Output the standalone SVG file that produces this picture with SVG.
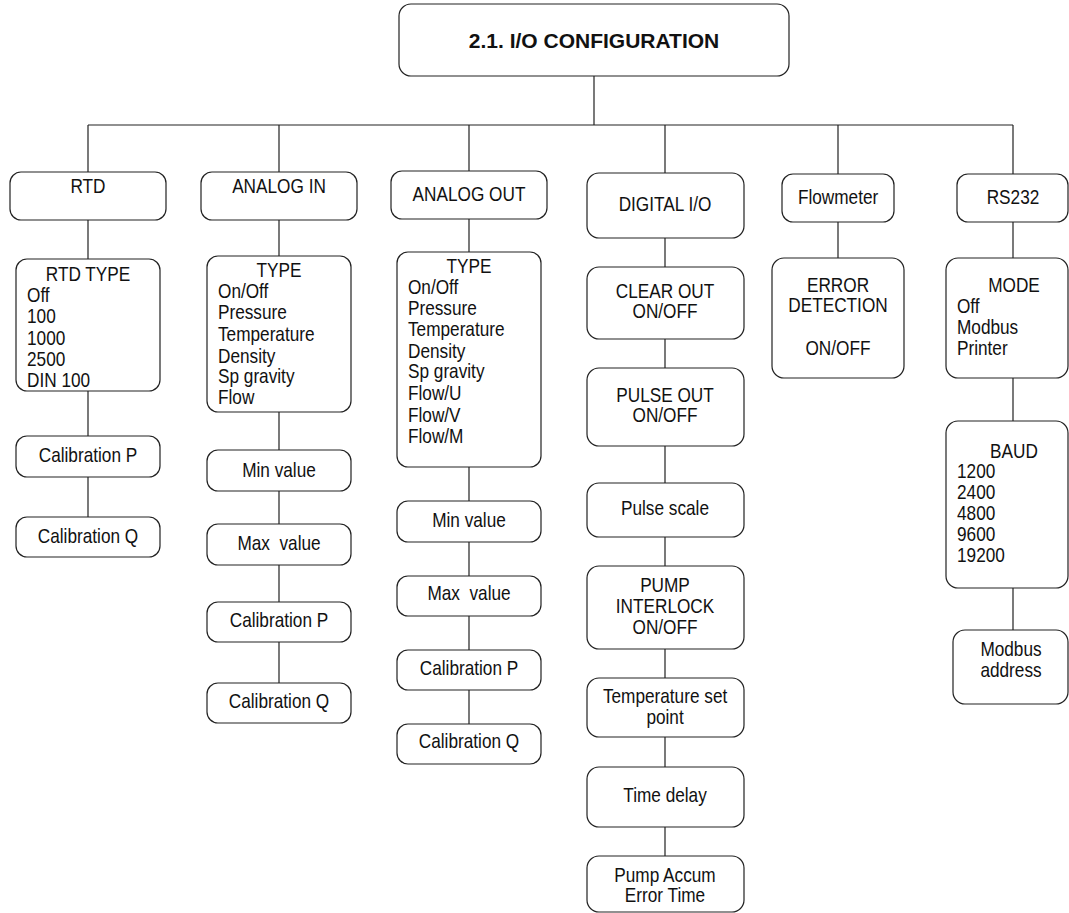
<svg xmlns="http://www.w3.org/2000/svg" width="1069" height="913" viewBox="0 0 1069 913">
<style>
.box{fill:#fff;stroke:#222;stroke-width:1.2}
.ln{fill:none;stroke:#222;stroke-width:1.2}
.t{font-family:'Liberation Sans Narrow','Arial Narrow','Liberation Sans',Arial,sans-serif;font-size:21px;fill:#111;transform-box:fill-box;transform-origin:left center;transform:scaleX(0.82)}
.c{text-anchor:middle;transform-origin:center}
.title{font-family:'Liberation Sans',Arial,sans-serif;font-weight:bold;font-size:21px;fill:#111;text-anchor:middle}
</style>
<rect x="0" y="0" width="1069" height="913" fill="#fff"/>
<g id="connectors">
<path class="ln" d="M594 76V125M88 125H1013M88 125V172M279 125V172M469 125V171M665 125V173M838 125V174M1013 125V174
M88 220V259M88 391V436M88 477V517
M279 220V256M279 412V450M279 491V524M279 565V602M279 642V683
M469 219V252M469 467V501M469 542V576M469 616V650M469 690V724
M665 238V267M665 339V368M665 446V483M665 537V566M665 649V678M665 737V767M665 827V856
M838 222V258
M1013 222V258M1013 378V421M1013 588V630"/>
</g>
<g id="root">
<rect class="box" x="399" y="4" width="390" height="72" rx="12"/>
<text class="title" x="594" y="48">2.1. I/O CONFIGURATION</text>
</g>
<g id="rtd">
<rect class="box" x="10" y="172" width="156" height="48" rx="11"/>
<text class="t c" x="88" y="193">RTD</text>
</g>
<g id="rtd-type">
<rect class="box" x="16" y="259" width="144" height="132" rx="11"/>
<text class="t c" x="88" y="281">RTD TYPE</text>
<text class="t" x="27" y="302">Off</text>
<text class="t" x="27" y="323">100</text>
<text class="t" x="27" y="345">1000</text>
<text class="t" x="27" y="366">2500</text>
<text class="t" x="27" y="387">DIN 100</text>
</g>
<g id="rtd-calp">
<rect class="box" x="16" y="436" width="144" height="41" rx="11"/>
<text class="t c" x="88" y="462">Calibration P</text>
</g>
<g id="rtd-calq">
<rect class="box" x="16" y="517" width="144" height="40" rx="11"/>
<text class="t c" x="88" y="543">Calibration Q</text>
</g>
<g id="analog-in">
<rect class="box" x="201" y="172" width="156" height="48" rx="11"/>
<text class="t c" x="279" y="193">ANALOG IN</text>
</g>
<g id="ai-type">
<rect class="box" x="207" y="256" width="144" height="156" rx="11"/>
<text class="t c" x="279" y="277">TYPE</text>
<text class="t" x="218" y="298">On/Off</text>
<text class="t" x="218" y="319">Pressure</text>
<text class="t" x="218" y="341">Temperature</text>
<text class="t" x="218" y="363">Density</text>
<text class="t" x="218" y="383">Sp gravity</text>
<text class="t" x="218" y="404">Flow</text>
</g>
<g id="ai-min">
<rect class="box" x="207" y="450" width="144" height="41" rx="11"/>
<text class="t c" x="279" y="477">Min value</text>
</g>
<g id="ai-max">
<rect class="box" x="207" y="524" width="144" height="41" rx="11"/>
<text class="t c" x="279" y="550" xml:space="preserve">Max  value</text>
</g>
<g id="ai-calp">
<rect class="box" x="207" y="602" width="144" height="40" rx="11"/>
<text class="t c" x="279" y="627">Calibration P</text>
</g>
<g id="ai-calq">
<rect class="box" x="207" y="683" width="144" height="40" rx="11"/>
<text class="t c" x="279" y="708">Calibration Q</text>
</g>
<g id="analog-out">
<rect class="box" x="391" y="171" width="156" height="48" rx="11"/>
<text class="t c" x="469" y="201">ANALOG OUT</text>
</g>
<g id="ao-type">
<rect class="box" x="397" y="252" width="144" height="215" rx="11"/>
<text class="t c" x="469" y="273">TYPE</text>
<text class="t" x="408" y="294">On/Off</text>
<text class="t" x="408" y="315">Pressure</text>
<text class="t" x="408" y="336">Temperature</text>
<text class="t" x="408" y="358">Density</text>
<text class="t" x="408" y="378">Sp gravity</text>
<text class="t" x="408" y="400">Flow/U</text>
<text class="t" x="408" y="422">Flow/V</text>
<text class="t" x="408" y="443">Flow/M</text>
</g>
<g id="ao-min">
<rect class="box" x="397" y="501" width="144" height="41" rx="11"/>
<text class="t c" x="469" y="527">Min value</text>
</g>
<g id="ao-max">
<rect class="box" x="397" y="576" width="144" height="40" rx="11"/>
<text class="t c" x="469" y="600" xml:space="preserve">Max  value</text>
</g>
<g id="ao-calp">
<rect class="box" x="397" y="650" width="144" height="40" rx="11"/>
<text class="t c" x="469" y="675">Calibration P</text>
</g>
<g id="ao-calq">
<rect class="box" x="397" y="724" width="144" height="40" rx="11"/>
<text class="t c" x="469" y="748">Calibration Q</text>
</g>
<g id="digital-io">
<rect class="box" x="587" y="173" width="157" height="65" rx="12"/>
<text class="t c" x="665" y="211">DIGITAL I/O</text>
</g>
<g id="clear-out">
<rect class="box" x="587" y="267" width="157" height="72" rx="12"/>
<text class="t c" x="665" y="298">CLEAR OUT</text>
<text class="t c" x="665" y="318">ON/OFF</text>
</g>
<g id="pulse-out">
<rect class="box" x="587" y="368" width="157" height="78" rx="12"/>
<text class="t c" x="665" y="402">PULSE OUT</text>
<text class="t c" x="665" y="422">ON/OFF</text>
</g>
<g id="pulse-scale">
<rect class="box" x="587" y="483" width="157" height="54" rx="12"/>
<text class="t c" x="665" y="515">Pulse scale</text>
</g>
<g id="pump-interlock">
<rect class="box" x="587" y="566" width="157" height="83" rx="12"/>
<text class="t c" x="665" y="592">PUMP</text>
<text class="t c" x="665" y="613">INTERLOCK</text>
<text class="t c" x="665" y="634">ON/OFF</text>
</g>
<g id="temp-set">
<rect class="box" x="587" y="678" width="157" height="59" rx="12"/>
<text class="t c" x="665" y="703">Temperature set</text>
<text class="t c" x="665" y="724">point</text>
</g>
<g id="time-delay">
<rect class="box" x="587" y="767" width="157" height="60" rx="12"/>
<text class="t c" x="665" y="802">Time delay</text>
</g>
<g id="pump-accum">
<rect class="box" x="587" y="856" width="157" height="56" rx="12"/>
<text class="t c" x="665" y="882">Pump Accum</text>
<text class="t c" x="665" y="902">Error Time</text>
</g>
<g id="flowmeter">
<rect class="box" x="782" y="174" width="112" height="48" rx="11"/>
<text class="t c" x="838" y="204">Flowmeter</text>
</g>
<g id="error-detection">
<rect class="box" x="772" y="258" width="132" height="120" rx="12"/>
<text class="t c" x="838" y="292">ERROR</text>
<text class="t c" x="838" y="312">DETECTION</text>
<text class="t c" x="838" y="355">ON/OFF</text>
</g>
<g id="rs232">
<rect class="box" x="957" y="174" width="111" height="48" rx="11"/>
<text class="t c" x="1013" y="204">RS232</text>
</g>
<g id="mode">
<rect class="box" x="946" y="258" width="122" height="120" rx="12"/>
<text class="t c" x="1014" y="292">MODE</text>
<text class="t" x="957" y="313">Off</text>
<text class="t" x="957" y="334">Modbus</text>
<text class="t" x="957" y="355">Printer</text>
</g>
<g id="baud">
<rect class="box" x="946" y="421" width="122" height="167" rx="12"/>
<text class="t c" x="1014" y="458">BAUD</text>
<text class="t" x="957" y="478">1200</text>
<text class="t" x="957" y="499">2400</text>
<text class="t" x="957" y="520">4800</text>
<text class="t" x="957" y="541">9600</text>
<text class="t" x="957" y="562">19200</text>
</g>
<g id="modbus-address">
<rect class="box" x="953" y="630" width="115" height="74" rx="12"/>
<text class="t c" x="1011" y="656">Modbus</text>
<text class="t c" x="1011" y="677">address</text>
</g>
</svg>
